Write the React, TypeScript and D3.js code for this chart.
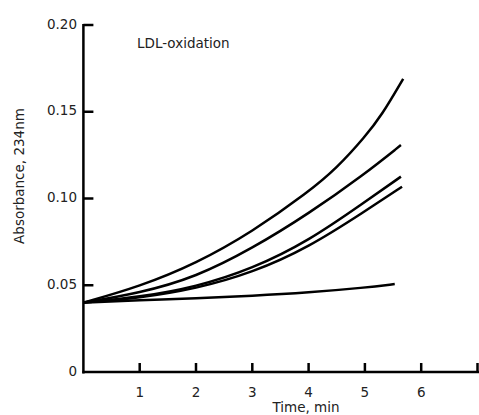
import React from "react";
import * as d3 from "d3";

const times1 = [0, 1, 2, 3, 4, 4.5, 5, 5.3, 5.68];
const curveA = [0.04, 0.0493, 0.0625, 0.0808, 0.1038, 0.1175, 0.1355, 0.148, 0.169];
const times2 = [0, 1, 2, 3, 4, 5, 5.64];
const curveB = [0.04, 0.0455, 0.0547, 0.0712, 0.0912, 0.1142, 0.1308];
const times3 = [0, 1, 2, 3, 4, 5, 5.64];
const curveC = [0.04, 0.0432, 0.049, 0.0595, 0.0755, 0.098, 0.1126];
const times4 = [0, 1, 2, 3, 4, 5, 5.66];
const curveD = [0.04, 0.0426, 0.048, 0.0572, 0.0718, 0.0926, 0.1068];
const times5 = [0, 1, 2, 3, 4, 5, 5.53];
const curveE = [0.04, 0.0413, 0.0425, 0.0439, 0.0458, 0.0486, 0.0507];

const xTicks = [1, 2, 3, 4, 5, 6, 7];
const xTickLabels = ["1", "2", "3", "4", "5", "6", ""];
const yTicks = [0, 0.05, 0.1, 0.15, 0.2];
const yTickLabels = ["0", "0.05", "0.10", "0.15", "0.20"];

const series = [
  { t: times1, v: curveA },
  { t: times2, v: curveB },
  { t: times3, v: curveC },
  { t: times4, v: curveD },
  { t: times5, v: curveE },
];

export default function App() {
  const W = 479, H = 415;
  const x = d3.scaleLinear().domain([0, 7]).range([83.4, 477.5]);
  const y = d3.scaleLinear().domain([0, 0.2]).range([372, 25]);
  const line = d3
    .line<[number, number]>()
    .x((d) => x(d[0]))
    .y((d) => y(d[1]))
    .curve(d3.curveBasis);
  const font = "'DejaVu Sans', Verdana, sans-serif";
  const fs = 13.5;
  return (
    <svg
      width={W}
      height={H}
      style={{ position: "absolute", left: 0, top: 0, background: "#fff" }}
      fontFamily={font}
    >
      <line x1={x(0)} x2={x(0)} y1={y(0.2) - 1} y2={y(0) + 1.5} stroke="#000" strokeWidth={2.5} />
      <line x1={x(0) - 1} x2={479} y1={y(0)} y2={y(0)} stroke="#000" strokeWidth={2.5} />
      {yTicks.map((t, i) => (
        <g key={"y" + i}>
          {t > 0 && (
            <line x1={x(0)} x2={x(0) + 10} y1={y(t)} y2={y(t)} stroke="#000" strokeWidth={2.5} />
          )}
          <text x={77} y={y(t) + 3.5} textAnchor="end" fontSize={fs} fill="#222">
            {yTickLabels[i]}
          </text>
        </g>
      ))}
      {xTicks.map((t, i) => (
        <g key={"x" + i}>
          <line x1={x(t)} x2={x(t)} y1={y(0)} y2={y(0) - 9} stroke="#000" strokeWidth={2.5} />
          <text x={x(t)} y={397} textAnchor="middle" fontSize={fs} fill="#222">
            {xTickLabels[i]}
          </text>
        </g>
      ))}
      <text x={306} y={412} textAnchor="middle" fontSize={fs} fill="#222">
        Time, min
      </text>
      <text transform={`translate(24,176) rotate(-90)`} textAnchor="middle" fontSize={fs} fill="#222">
        Absorbance, 234nm
      </text>
      <text x={137} y={48} fontSize={fs} fill="#222">
        LDL-oxidation
      </text>
      {series.map((s, i) => (
        <path
          key={"s" + i}
          d={line(s.t.map((t, j) => [t, s.v[j]] as [number, number])) || ""}
          fill="none"
          stroke="#000"
          strokeWidth={2.5}
        />
      ))}
    </svg>
  );
}
